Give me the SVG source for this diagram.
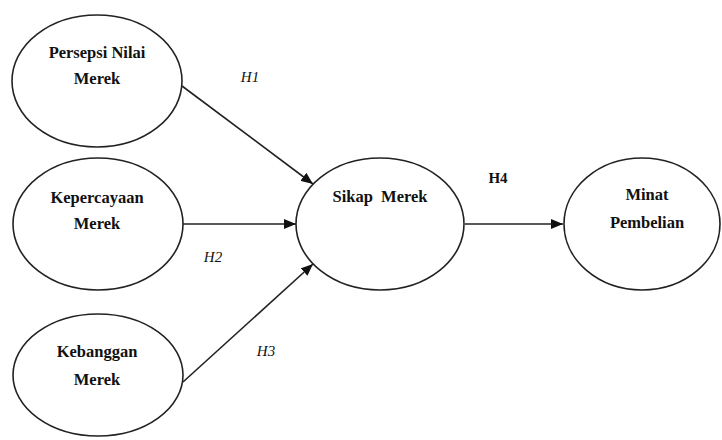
<svg xmlns="http://www.w3.org/2000/svg" width="722" height="440" viewBox="0 0 722 440">
<style>
.node ellipse{fill:#fff;stroke:#222;stroke-width:1.6}
.lbl{font-weight:bold;font-size:16.5px;fill:#111;text-anchor:middle}
.h{font-size:15px;fill:#111;text-anchor:middle}
.edge{stroke:#222;stroke-width:1.6;fill:none;marker-end:url(#ah)}
</style>
<defs>
<marker id="ah" viewBox="0 0 12 10" refX="12" refY="5" markerWidth="12" markerHeight="10" markerUnits="userSpaceOnUse" orient="auto">
<path d="M0,0 L12,5 L0,10 z" fill="#111"/>
</marker>
</defs>
<rect width="722" height="440" fill="#fff"/>
<g id="connectors" font-family="Liberation Serif, DejaVu Serif, serif">
<line class="edge" x1="182" y1="86" x2="313" y2="184"/>
<line class="edge" x1="183" y1="224" x2="296" y2="224"/>
<line class="edge" x1="183" y1="382" x2="313" y2="264"/>
<line class="edge" x1="465" y1="224" x2="563" y2="224"/>
<text class="h" font-style="italic" x="250" y="82">H1</text>
<text class="h" font-style="italic" x="213" y="262">H2</text>
<text class="h" font-style="italic" x="266" y="356">H3</text>
<text class="h" font-weight="bold" x="498" y="183">H4</text>
</g>
<g id="persepsi" class="node" font-family="Liberation Serif, DejaVu Serif, serif">
<ellipse cx="97" cy="81" rx="85" ry="66"/>
<text class="lbl" x="97" y="58">Persepsi Nilai</text>
<text class="lbl" x="97" y="84">Merek</text>
</g>
<g id="kepercayaan" class="node" font-family="Liberation Serif, DejaVu Serif, serif">
<ellipse cx="98" cy="224" rx="85" ry="66"/>
<text class="lbl" x="97" y="203">Kepercayaan</text>
<text class="lbl" x="97" y="229">Merek</text>
</g>
<g id="kebanggan" class="node" font-family="Liberation Serif, DejaVu Serif, serif">
<ellipse cx="98" cy="375" rx="85" ry="61"/>
<text class="lbl" x="97" y="357">Kebanggan</text>
<text class="lbl" x="97" y="385">Merek</text>
</g>
<g id="sikap" class="node" font-family="Liberation Serif, DejaVu Serif, serif">
<ellipse cx="380" cy="224" rx="84" ry="66"/>
<text class="lbl" x="380" y="202" xml:space="preserve">Sikap  Merek</text>
</g>
<g id="minat" class="node" font-family="Liberation Serif, DejaVu Serif, serif">
<ellipse cx="642" cy="224" rx="78" ry="66"/>
<text class="lbl" x="647" y="200">Minat</text>
<text class="lbl" x="647" y="228">Pembelian</text>
</g>
</svg>
